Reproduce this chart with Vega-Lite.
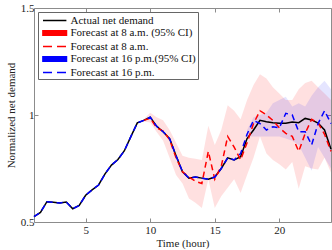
{
  "$schema": "https://vega.github.io/schema/vega-lite/v6.json",
  "width": 297,
  "height": 214,
  "autosize": {"type": "none"},
  "padding": {"left": 34, "top": 8, "right": 1, "bottom": 28},
  "background": "white",
  "config": {
    "view": {"stroke": "#8c8c8c", "strokeWidth": 1},
    "font": "Liberation Serif",
    "axis": {"labelFont": "Liberation Serif", "titleFont": "Liberation Serif", "labelFontSize": 11, "titleFontSize": 11, "titleFontWeight": "normal", "labelColor": "#222", "titleColor": "#222", "domainColor": "#8c8c8c", "tickColor": "#8c8c8c", "grid": false, "tickSize": -4},
    "legend": {"labelFont": "Liberation Serif"}
  },
  "data": {"values": [
    {"t": 1.0, "actual": 0.525, "f16": 0.525},
    {"t": 1.5, "actual": 0.545, "f16": 0.545},
    {"t": 2.0, "actual": 0.595, "f16": 0.595},
    {"t": 2.5, "actual": 0.592, "f16": 0.592},
    {"t": 3.0, "actual": 0.589, "f16": 0.589},
    {"t": 3.5, "actual": 0.593, "f16": 0.593},
    {"t": 4.0, "actual": 0.562, "f16": 0.562},
    {"t": 4.5, "actual": 0.577, "f16": 0.577},
    {"t": 5.0, "actual": 0.625, "f16": 0.625},
    {"t": 5.5, "actual": 0.65, "f16": 0.65},
    {"t": 6.0, "actual": 0.673, "f16": 0.673},
    {"t": 6.5, "actual": 0.725, "f16": 0.725},
    {"t": 7.0, "actual": 0.766, "f16": 0.766},
    {"t": 7.5, "actual": 0.792, "f16": 0.792},
    {"t": 8.0, "actual": 0.833, "f16": 0.833},
    {"t": 8.5, "actual": 0.899, "f16": 0.899},
    {"t": 9.0, "actual": 0.963, "f16": 0.963},
    {"t": 9.5, "actual": 0.975, "f16": 0.975, "f8": 0.975, "lo8": 0.97, "hi8": 0.98},
    {"t": 10.0, "actual": 0.99, "f16": 0.99, "f8": 0.985, "lo8": 0.965, "hi8": 1.01},
    {"t": 10.5, "actual": 0.947, "f16": 0.947, "f8": 0.94, "lo8": 0.92, "hi8": 0.99},
    {"t": 11.0, "actual": 0.922, "f16": 0.922, "f8": 0.925, "lo8": 0.88, "hi8": 0.975},
    {"t": 11.5, "actual": 0.89, "f16": 0.89, "f8": 0.885, "lo8": 0.8, "hi8": 0.93},
    {"t": 12.0, "actual": 0.81, "f16": 0.81, "f8": 0.8, "lo8": 0.72, "hi8": 0.87},
    {"t": 12.5, "actual": 0.735, "f16": 0.735, "f8": 0.735, "lo8": 0.68, "hi8": 0.81},
    {"t": 13.0, "actual": 0.705, "f16": 0.705, "f8": 0.71, "lo8": 0.61, "hi8": 0.8},
    {"t": 13.5, "actual": 0.71, "f16": 0.71, "f8": 0.69, "lo8": 0.59, "hi8": 0.795},
    {"t": 14.0, "actual": 0.705, "f16": 0.705, "f8": 0.68, "lo8": 0.565, "hi8": 0.79},
    {"t": 14.5, "actual": 0.7, "f16": 0.7, "f8": 0.83, "lo8": 0.7, "hi8": 0.95},
    {"t": 15.0, "actual": 0.71, "f16": 0.71, "f8": 0.7, "lo8": 0.565, "hi8": 0.86},
    {"t": 15.5, "actual": 0.75, "f16": 0.75, "f8": 0.76, "lo8": 0.62, "hi8": 0.93},
    {"t": 16.0, "actual": 0.8, "f16": 0.8, "f8": 0.9, "lo8": 0.66, "hi8": 1.045},
    {"t": 16.5, "actual": 0.79, "f16": 0.79, "f8": 0.85, "lo8": 0.7, "hi8": 1.02},
    {"t": 17.0, "actual": 0.805, "f16": 0.82, "f8": 0.79, "lo8": 0.635, "hi8": 0.98},
    {"t": 17.5, "actual": 0.89, "f16": 0.91, "lo16": 0.9, "hi16": 0.93, "f8": 0.87, "lo8": 0.72, "hi8": 1.07},
    {"t": 18.0, "actual": 0.93, "f16": 0.975, "lo16": 0.9, "hi16": 0.99, "f8": 0.96, "lo8": 0.8, "hi8": 1.14},
    {"t": 18.5, "actual": 0.975, "f16": 0.96, "lo16": 0.9, "hi16": 1.0, "f8": 1.02, "lo8": 0.9, "hi8": 1.19},
    {"t": 19.0, "actual": 0.968, "f16": 0.93, "lo16": 0.9, "hi16": 1.01, "f8": 1.0, "lo8": 0.82, "hi8": 1.17},
    {"t": 19.5, "actual": 0.964, "f16": 0.945, "lo16": 0.9, "hi16": 1.055, "f8": 0.975, "lo8": 0.79, "hi8": 1.13},
    {"t": 20.0, "actual": 0.962, "f16": 0.94, "lo16": 0.9, "hi16": 1.07, "f8": 0.94, "lo8": 0.77, "hi8": 1.1},
    {"t": 20.5, "actual": 0.961, "f16": 1.008, "lo16": 0.89, "hi16": 1.085, "f8": 0.914, "lo8": 0.745, "hi8": 1.07},
    {"t": 21.0, "actual": 0.967, "f16": 1.0, "lo16": 0.88, "hi16": 1.04, "f8": 0.9, "lo8": 0.78, "hi8": 1.07},
    {"t": 21.5, "actual": 0.964, "f16": 0.922, "lo16": 0.86, "hi16": 1.055, "f8": 0.83, "lo8": 0.655, "hi8": 1.12},
    {"t": 22.0, "actual": 0.984, "f16": 0.922, "lo16": 0.8, "hi16": 1.04, "f8": 0.914, "lo8": 0.76, "hi8": 1.15},
    {"t": 22.5, "actual": 0.977, "f16": 0.86, "lo16": 0.74, "hi16": 1.09, "f8": 0.98, "lo8": 0.75, "hi8": 1.16},
    {"t": 23.0, "actual": 0.962, "f16": 0.96, "lo16": 0.85, "hi16": 1.13, "f8": 0.962, "lo8": 0.745, "hi8": 1.13},
    {"t": 23.5, "actual": 0.93, "f16": 1.02, "lo16": 0.8, "hi16": 1.16, "f8": 0.91, "lo8": 0.8, "hi8": 1.1},
    {"t": 24.0, "actual": 0.84, "f16": 0.96, "lo16": 0.75, "hi16": 1.12, "f8": 0.83, "lo8": 0.73, "hi8": 1.07}
  ]},
  "resolve": {"axis": {"x": "independent", "y": "independent"}},
  "layer": [
    {
      "transform": [{"filter": "isValid(datum.lo8)"}],
      "mark": {"type": "area", "opacity": 0.12},
      "encoding": {
        "x": {"field": "t", "type": "quantitative", "scale": {"domain": [1, 24], "nice": false}, "axis": {"orient": "top", "labels": false, "title": null, "values": [5, 10, 15, 20], "domain": false}},
        "y": {"field": "lo8", "type": "quantitative", "scale": {"domain": [0.5, 1.5], "nice": false}, "axis": {"orient": "right", "labels": false, "title": null, "values": [0.5, 1, 1.5], "domain": false}},
        "y2": {"field": "hi8"},
        "color": {"datum": "Forecast at 8 a.m. (95% CI)", "type": "nominal",
          "scale": {"domain": ["Actual net demand", "Forecast at 8 a.m. (95% CI)", "Forecast at 8 a.m.", "Forecast at 16 p.m.(95% CI)", "Forecast at 16 p.m."], "range": ["black", "red", "red", "blue", "blue"]},
          "legend": {
            "title": null, "orient": "top-left", "offset": 4,
            "labelFont": "Liberation Serif", "labelFontSize": 11, "labelColor": "#111",
            "strokeColor": "#666", "fillColor": "white", "padding": 1.5, "rowPadding": 0.5,
            "symbolSize": 144, "labelOffset": 17, "symbolStrokeWidth": 1.6, "symbolOpacity": 1, "symbolType": "M-1.95,-0.36H1.95V0.36H-1.95Z",
            "encode": {"symbols": {"update": {
              "shape": {"signal": "indexof(datum.value, 'CI') >= 0 ? 'M-1.95,-0.36H1.95V0.36H-1.95Z' : 'M-1.95,0H1.95'"},
              "strokeDash": {"signal": "indexof(datum.value, 'CI') < 0 && indexof(datum.value, 'Forecast') >= 0 ? [9, 5] : [1, 0]"},
              "stroke": {"signal": "indexof(datum.value, 'CI') >= 0 ? 'transparent' : scale('color', datum.value)"},
              "fillOpacity": {"signal": "indexof(datum.value, 'CI') >= 0 ? 1 : 0"},
              "strokeWidth": {"value": 1.7},
              "opacity": {"value": 1},
              "size": {"value": 144},
              "x": {"value": 15.2}
            }}}
          }}
      }
    },
    {
      "transform": [{"filter": "isValid(datum.lo16)"}],
      "mark": {"type": "area", "opacity": 0.1},
      "encoding": {
        "x": {"field": "t", "type": "quantitative", "axis": null},
        "y": {"field": "lo16", "type": "quantitative", "axis": null},
        "y2": {"field": "hi16"},
        "color": {"datum": "Forecast at 16 p.m.(95% CI)", "type": "nominal", "legend": null}
      }
    },
    {
      "mark": {"type": "line", "strokeWidth": 1.5},
      "encoding": {
        "x": {"field": "t", "type": "quantitative", "axis": {"orient": "bottom", "title": "Time (hour)", "values": [5, 10, 15, 20], "domain": false, "labelPadding": 6, "titlePadding": 2}},
        "y": {"field": "actual", "type": "quantitative", "axis": {"orient": "left", "title": "Normalized net demand", "values": [0.5, 1, 1.5], "format": "~g", "domain": false, "labelPadding": 4, "titlePadding": 4}},
        "color": {"datum": "Actual net demand", "type": "nominal", "legend": null}
      }
    },
    {
      "transform": [{"filter": "isValid(datum.f8)"}],
      "mark": {"type": "line", "strokeWidth": 1.5, "strokeDash": [6, 4]},
      "encoding": {
        "x": {"field": "t", "type": "quantitative", "axis": null},
        "y": {"field": "f8", "type": "quantitative", "axis": null},
        "color": {"datum": "Forecast at 8 a.m.", "type": "nominal", "legend": null}
      }
    },
    {
      "mark": {"type": "line", "strokeWidth": 1.5, "strokeDash": [6, 4]},
      "encoding": {
        "x": {"field": "t", "type": "quantitative", "axis": null},
        "y": {"field": "f16", "type": "quantitative", "axis": null},
        "color": {"datum": "Forecast at 16 p.m.", "type": "nominal", "legend": null}
      }
    }
  ]
}
